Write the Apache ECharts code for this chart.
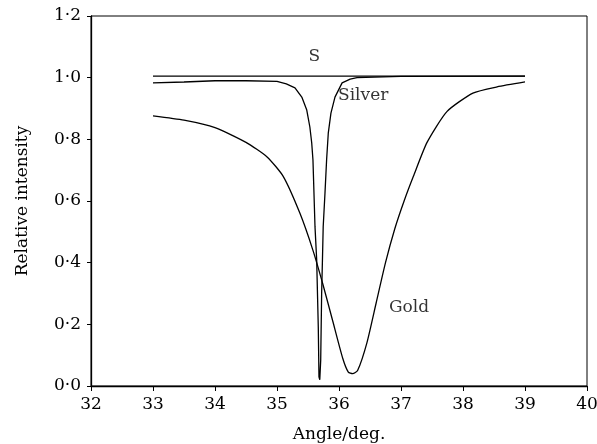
<!DOCTYPE html>
<html>
<head>
<meta charset="utf-8">
<script src="https://cdn.jsdelivr.net/npm/echarts@6/dist/echarts.min.js"></script>
<style>html,body{margin:0;padding:0;background:#fff}#c{width:597px;height:444px}</style>
</head>
<body>
<div id="c"></div>
<script>
// Data
var xTicks = [32, 33, 34, 35, 36, 37, 38, 39, 40];
var yTicks = [0, 0.2, 0.4, 0.6, 0.8, 1.0, 1.2];

var sAngle = [33, 39];
var sValue = [1.005, 1.005];

var silverAngle = [33.0, 33.5, 34.0, 34.5, 35.0, 35.15, 35.29, 35.40, 35.48, 35.53, 35.56, 35.58, 35.613, 35.64, 35.666, 35.677, 35.69, 35.705, 35.72, 35.733, 35.745, 35.774, 35.80, 35.827, 35.87, 35.935, 36.05, 36.18, 36.29, 37.0, 39.0];
var silverValue = [0.983, 0.986, 0.99, 0.99, 0.988, 0.98, 0.967, 0.937, 0.895, 0.84, 0.788, 0.733, 0.516, 0.409, 0.19, 0.03, 0.02, 0.084, 0.30, 0.409, 0.516, 0.626, 0.733, 0.82, 0.885, 0.937, 0.983, 0.995, 1.0, 1.004, 1.005];

var goldAngle = [33.0, 33.5, 34.0, 34.5, 34.84, 35.1, 35.37, 35.58, 35.74, 35.9, 36.06, 36.15, 36.22, 36.3, 36.45, 36.6, 36.75, 36.9, 37.05, 37.2, 37.42, 37.74, 38.16, 38.55, 39.0];
var goldValue = [0.876, 0.862, 0.838, 0.79, 0.743, 0.68, 0.56, 0.44, 0.33, 0.21, 0.09, 0.045, 0.04, 0.05, 0.14, 0.27, 0.40, 0.51, 0.60, 0.68, 0.79, 0.89, 0.95, 0.97, 0.986];

var labelNames = ['S', 'Silver', 'Gold'];
var labelAngle = [35.6, 36.39, 37.13];
var labelValue = [1.07, 0.942, 0.255];

function zip(a, b) { return a.map(function (v, i) { return [v, b[i]]; }); }

var font = 'DejaVu Serif';
var chart = echarts.init(document.getElementById('c'), null, { renderer: 'canvas' });
var lineStyle = { color: '#000', width: 1.3 };
chart.setOption({
  animation: false,
  backgroundColor: '#fff',
  grid: { left: 91, right: 10, top: 16, bottom: 58, outerBoundsMode: 'none', containLabel: false,
          show: true, borderColor: '#000', borderWidth: 1 },
  xAxis: {
    type: 'value', min: xTicks[0], max: xTicks[xTicks.length - 1], interval: 1,
    name: 'Angle/deg.', nameLocation: 'middle', nameGap: 40,
    nameTextStyle: { fontFamily: font, fontSize: 17, color: '#000' },
    axisLine: { lineStyle: { color: '#000', width: 1.3 } },
    axisTick: { show: true, inside: false, length: 5, lineStyle: { color: '#000' } },
    axisLabel: { fontFamily: font, fontSize: 17, color: '#000', margin: 10 },
    splitLine: { show: false }
  },
  yAxis: {
    type: 'value', min: yTicks[0], max: yTicks[yTicks.length - 1], interval: 0.2,
    name: 'Relative intensity', nameLocation: 'middle', nameGap: 60,
    nameTextStyle: { fontFamily: font, fontSize: 17, color: '#000' },
    axisLine: { show: true, lineStyle: { color: '#000', width: 1.3 } },
    axisTick: { show: true, inside: false, length: 4, lineStyle: { color: '#000' } },
    axisLabel: { fontFamily: font, fontSize: 17, color: '#000', margin: 10,
      formatter: function (v) { return v.toFixed(1).replace('.', '\u00B7'); } },
    splitLine: { show: false }
  },
  series: [
    { name: 'S', type: 'line', data: zip(sAngle, sValue), showSymbol: false, lineStyle: lineStyle, silent: true },
    { name: 'Silver', type: 'line', data: zip(silverAngle, silverValue), showSymbol: false, lineStyle: lineStyle, silent: true },
    { name: 'Gold', type: 'line', data: zip(goldAngle, goldValue), showSymbol: false, smooth: 0.2, lineStyle: lineStyle, silent: true },
    { name: 'labels', type: 'scatter', symbolSize: 0, silent: true,
      data: labelNames.map(function (n, i) { return { value: [labelAngle[i], labelValue[i]], name: n }; }),
      label: { show: true, position: 'inside', formatter: '{b}', fontFamily: font, fontSize: 17, color: '#000' } }
  ]
});
</script>
</body>
</html>
